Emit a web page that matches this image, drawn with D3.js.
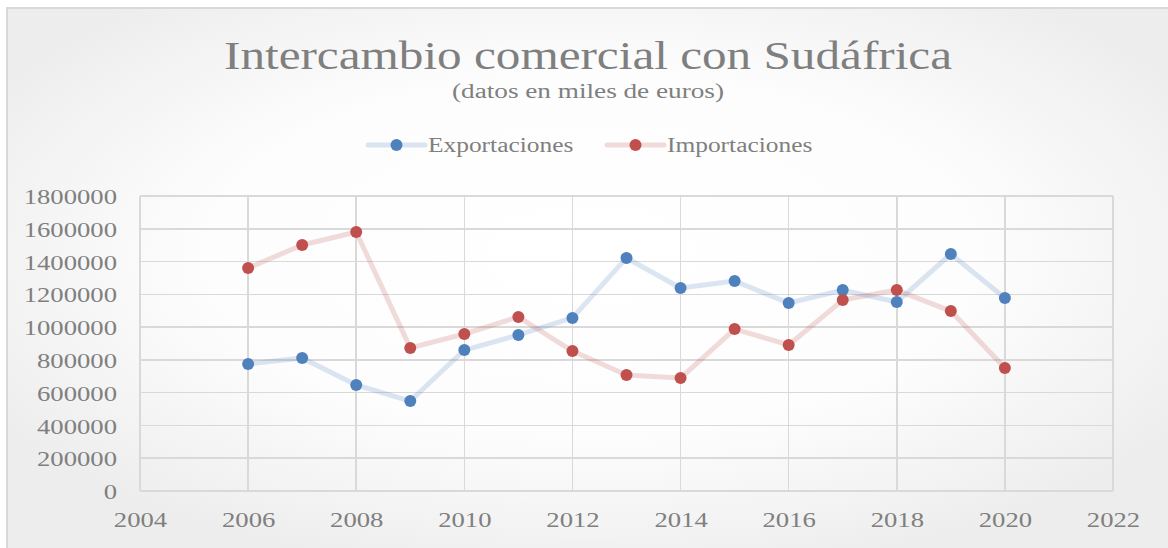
<!DOCTYPE html>
<html lang="es">
<head>
    <meta charset="UTF-8">
    <title>Intercambio comercial con Sudáfrica</title>
    <script src="https://d3js.org/d3.v7.min.js"></script>
    <style>
        body {
            margin: 0;
            background: #fff;
            font-family: "Liberation Serif", serif;
        }
        text {
            fill: #7f7f7f;
        }
        .grid line {
            stroke: #d9d9d9;
            stroke-width: 1.5;
            shape-rendering: crispEdges;
        }
    </style>
</head>
<body>
    <div id="chart"></div>

    <script>
        // Datos
        const years = [2006, 2007, 2008, 2009, 2010, 2011, 2012, 2013, 2014, 2015, 2016, 2017, 2018, 2019, 2020];
        const exportaciones = [775000, 811000, 647000, 549000, 860000, 952000, 1056000, 1422000, 1239000, 1281000, 1147000, 1226000, 1153000, 1446000, 1178000];
        const importaciones = [1361000, 1501000, 1580000, 873000, 958000, 1062000, 854000, 708000, 689000, 988000, 891000, 1165000, 1226000, 1098000, 750000];
        const xTicks = [2004, 2006, 2008, 2010, 2012, 2014, 2016, 2018, 2020, 2022];
        const yTicks = [0, 200000, 400000, 600000, 800000, 1000000, 1200000, 1400000, 1600000, 1800000];
        const seriesNames = ["Exportaciones", "Importaciones"];
        const colors = ["#4f81bd", "#c0504d"];

        const W = 1168, H = 548;
        const margin = { top: 196, right: 55, bottom: 57, left: 140 },
              width = W - margin.left - margin.right,
              height = H - margin.top - margin.bottom;

        // los textos del original estan algo estirados en horizontal
        const stretch = 1.27;
        function widen(sel, k) {
            sel.each(function() {
                const w = this.getComputedTextLength();
                d3.select(this).attr("textLength", w * (k || stretch)).attr("lengthAdjust", "spacingAndGlyphs");
            });
        }

        const svg = d3.select("#chart").append("svg")
            .attr("width", W).attr("height", H);

        // fondo con degradado radial
        const grad = svg.append("defs").append("radialGradient")
            .attr("id", "bg").attr("cx", "50%").attr("cy", "45%").attr("r", "60%");
        grad.append("stop").attr("offset", "0%").attr("stop-color", "#ffffff");
        grad.append("stop").attr("offset", "55%").attr("stop-color", "#fdfdfd");
        grad.append("stop").attr("offset", "100%").attr("stop-color", "#ededed");

        svg.append("rect").attr("x", 7).attr("y", 8).attr("width", W).attr("height", H)
            .attr("fill", "url(#bg)").attr("stroke", "#d9d9d9").attr("stroke-width", 2);

        // Titulo
        const title = svg.append("text").attr("x", 588).attr("y", 69)
            .attr("text-anchor", "middle").attr("font-size", 41)
            .text("Intercambio comercial con Sudáfrica");
        widen(title, 1.06);
        title.attr("textLength", 728);
        svg.append("text").attr("x", 588).attr("y", 98)
            .attr("text-anchor", "middle").attr("font-size", 20)
            .attr("textLength", 272).attr("lengthAdjust", "spacingAndGlyphs")
            .text("(datos en miles de euros)");

        // Escalas
        const x = d3.scaleLinear().domain([2004, 2022]).range([0, width]);
        const y = d3.scaleLinear().domain([0, 1800000]).range([height, 0]);

        const g = svg.append("g").attr("transform", `translate(${margin.left},${margin.top})`);

        // Rejilla
        const grid = g.append("g").attr("class", "grid");
        grid.selectAll("line.h").data(yTicks).enter().append("line")
            .attr("class", "h")
            .attr("x1", 0).attr("x2", width)
            .attr("y1", d => y(d)).attr("y2", d => y(d));
        grid.selectAll("line.v").data(xTicks).enter().append("line")
            .attr("class", "v")
            .attr("x1", d => x(d)).attr("x2", d => x(d))
            .attr("y1", 0).attr("y2", height);

        // Ejes (solo etiquetas)
        const yAxis = g.append("g")
            .call(d3.axisLeft(y).tickValues(yTicks).tickFormat(d3.format("d")).tickSize(0).tickPadding(23));
        yAxis.select(".domain").remove();
        yAxis.selectAll("text").attr("font-size", 21).attr("font-family", "Liberation Serif")
            .attr("fill", "#7f7f7f").attr("dy", "0.36em");
        widen(yAxis.selectAll("text"));

        const xAxis = g.append("g").attr("transform", `translate(0,${height})`)
            .call(d3.axisBottom(x).tickValues(xTicks).tickFormat(d3.format("d")).tickSize(0).tickPadding(21));
        xAxis.select(".domain").remove();
        xAxis.selectAll("text").attr("font-size", 21).attr("font-family", "Liberation Serif")
            .attr("fill", "#7f7f7f");
        widen(xAxis.selectAll("text"));

        // Series
        const series = [exportaciones, importaciones].map((vals, i) => ({
            name: seriesNames[i],
            color: colors[i],
            values: years.map((yr, j) => ({ year: yr, value: vals[j] }))
        }));

        const line = d3.line().x(d => x(d.year)).y(d => y(d.value));

        series.forEach(s => {
            g.append("path").datum(s.values)
                .attr("fill", "none")
                .attr("stroke", s.color)
                .attr("stroke-opacity", 0.2)
                .attr("stroke-width", 5)
                .attr("stroke-linejoin", "round")
                .attr("d", line);
        });
        series.forEach(s => {
            g.selectAll(null).data(s.values).enter().append("circle")
                .attr("cx", d => x(d.year)).attr("cy", d => y(d.value))
                .attr("r", 6)
                .attr("fill", s.color);
        });

        // Leyenda
        const legendX = [368, 607];
        const legend = svg.append("g").attr("transform", "translate(0,145)");
        series.forEach((s, i) => {
            const lg = legend.append("g").attr("transform", `translate(${legendX[i]},0)`);
            lg.append("line").attr("x1", 0).attr("x2", 57).attr("y1", 0).attr("y2", 0)
                .attr("stroke", s.color).attr("stroke-opacity", 0.2).attr("stroke-width", 5)
                .attr("stroke-linecap", "round");
            lg.append("circle").attr("cx", 28.5).attr("cy", 0).attr("r", 6).attr("fill", s.color);
            const t = lg.append("text").attr("x", 60).attr("y", 7).attr("font-size", 20).text(s.name);
            widen(t);
        });
    </script>
</body>
</html>
